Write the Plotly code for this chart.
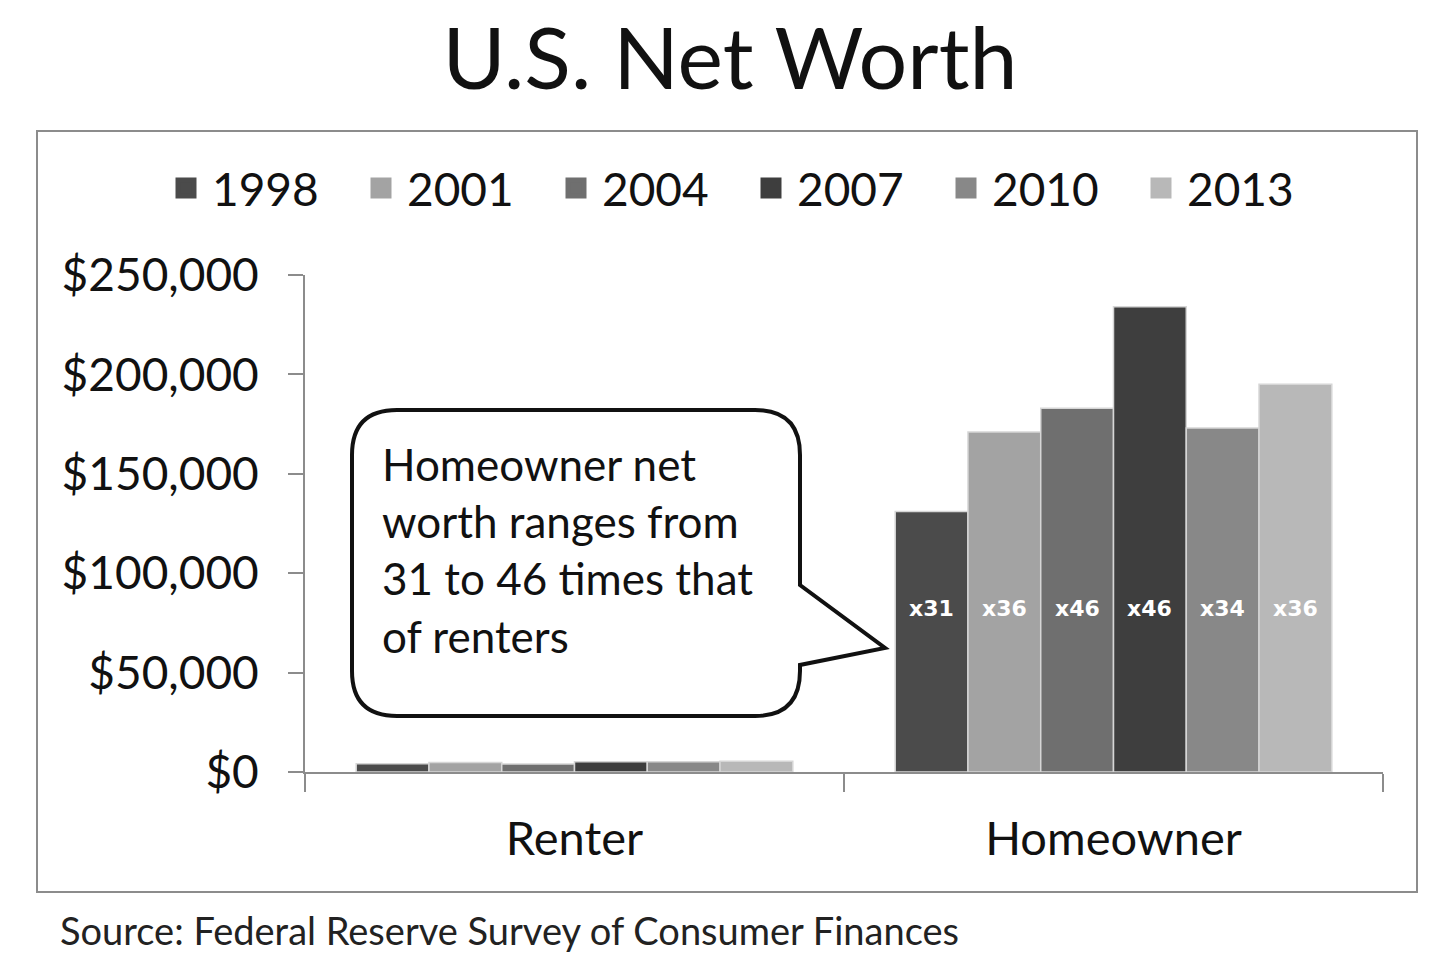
import plotly.graph_objects as go

categories = ["Renter", "Homeowner"]
years = ["1998", "2001", "2004", "2007", "2010", "2013"]
renter = [4200, 4800, 4000, 5100, 5100, 5400]
homeowner = [131000, 171000, 183000, 234000, 173000, 195000]
ratio_labels = ["x31", "x36", "x46", "x46", "x34", "x36"]
colors = ["#4b4b4b", "#a3a3a3", "#6f6f6f", "#3e3e3e", "#888888", "#b8b8b8"]
tick_vals = [0, 50000, 100000, 150000, 200000, 250000]
tick_text = ["$0", "$50,000", "$100,000", "$150,000", "$200,000", "$250,000"]
label_level = 82000

FONT = "Lato"
W, H = 1434, 958
OFF = 8
PL, PR, PT, PB = 305, 1383, 275, 772
L, R, T, B = PL - OFF, W - (PR - OFF), PT - OFF, H - (PB - OFF)
PW, PH = PR - PL, PB - PT

def px(x):
    return (x - PL) / PW

def py(y):
    return (PB - y) / PH

fig = go.Figure()
for i, yr in enumerate(years):
    fig.add_trace(go.Bar(
        x=categories, y=[renter[i], homeowner[i]], name=yr, legendgroup=yr, showlegend=False,
        marker=dict(color=colors[i], line=dict(color="#d6d6d6", width=1.5)),
    ))
for i, yr in enumerate(years):
    fig.add_trace(go.Scatter(
        x=[None], y=[None], mode="markers", name=yr, legendgroup=yr, showlegend=True,
        marker=dict(symbol="square", size=16, color=colors[i], line=dict(color=colors[i], width=5)),
    ))

bargap = 0.19
n = len(years)
bw = (1 - bargap) / n
annotations = []
for i, lab in enumerate(ratio_labels):
    xc = 1 - (1 - bargap) / 2 + bw * (i + 0.5)
    annotations.append(dict(x=xc, y=label_level, xref="x", yref="y", text="<b>" + lab + "</b>",
                            showarrow=False, font=dict(family="DejaVu Sans", size=22, color="white")))

annotations.append(dict(x=px(380), y=py(550), xref="paper", yref="paper", xanchor="left", yanchor="middle",
                        align="left", showarrow=False,
                        text="Homeowner net<br>worth ranges from<br>31 to 46 times that<br>of renters",
                        font=dict(family=FONT, size=44, color="#111111")))
annotations.append(dict(x=px(58), y=py(930), xref="paper", yref="paper", xanchor="left", yanchor="middle",
                        showarrow=False, text="Source: Federal Reserve Survey of Consumer Finances",
                        font=dict(family=FONT, size=38, color="#222222")))

bl, br, bt, bb, r = 352, 800, 410, 716, 45
tipx, tipy = 885, 648
p1, p2 = 585, 665
def P(x, y):
    return f"{px(x):.5f},{py(y):.5f}"
path = (f"M {P(bl + r, bt)} L {P(br - r, bt)} Q {P(br, bt)} {P(br, bt + r)} "
        f"L {P(br, p1)} L {P(tipx, tipy)} L {P(br, p2)} L {P(br, bb - r)} Q {P(br, bb)} {P(br - r, bb)} "
        f"L {P(bl + r, bb)} Q {P(bl, bb)} {P(bl, bb - r)} L {P(bl, bt + r)} Q {P(bl, bt)} {P(bl + r, bt)} Z")

shapes = [
    dict(type="rect", xref="paper", yref="paper", x0=px(37), x1=px(1417), y0=py(892), y1=py(131),
         line=dict(color="#8c8c8c", width=2), fillcolor="rgba(0,0,0,0)", layer="below"),
    dict(type="path", xref="paper", yref="paper", path=path,
         line=dict(color="#111111", width=4), fillcolor="white"),
]

fig.update_layout(
    width=W, height=H,
    margin=dict(l=L, r=R, t=T, b=B, autoexpand=False),
    paper_bgcolor="white", plot_bgcolor="white",
    barmode="group", bargap=bargap, bargroupgap=0,
    title=dict(text="U.S. Net Worth", x=722 / W, xanchor="center", y=1 - 51 / H,
               yanchor="middle", yref="container", font=dict(family=FONT, size=86, color="#111111")),
    legend=dict(orientation="h", x=px(160), xanchor="left", xref="paper", y=py(188), yanchor="middle",
                font=dict(family=FONT, size=46, color="#111111"), itemsizing="trace", itemwidth=42,
                entrywidth=138, bgcolor="rgba(0,0,0,0)"),
    font=dict(family=FONT, color="#111111"),
    annotations=annotations,
    shapes=shapes,
    showlegend=True,
)
fig.update_yaxes(range=[0, 250000], tickvals=tick_vals, ticktext=tick_text, showgrid=False,
                 showline=True, linecolor="#8c8c8c", linewidth=2, ticks="outside", ticklen=15,
                 tickcolor="#8c8c8c", tickwidth=2, ticklabelstandoff=20, automargin=False,
                 tickfont=dict(family=FONT, size=46, color="#111111"), zeroline=False)
fig.update_xaxes(showline=True, linecolor="#8c8c8c", linewidth=2, ticks="outside", ticklen=18,
                 tickson="boundaries", tickcolor="#8c8c8c", tickwidth=2, ticklabelstandoff=25,
                 automargin=False, tickangle=0,
                 tickfont=dict(family=FONT, size=47, color="#111111"), showgrid=False)

fig.write_html("out.html")
